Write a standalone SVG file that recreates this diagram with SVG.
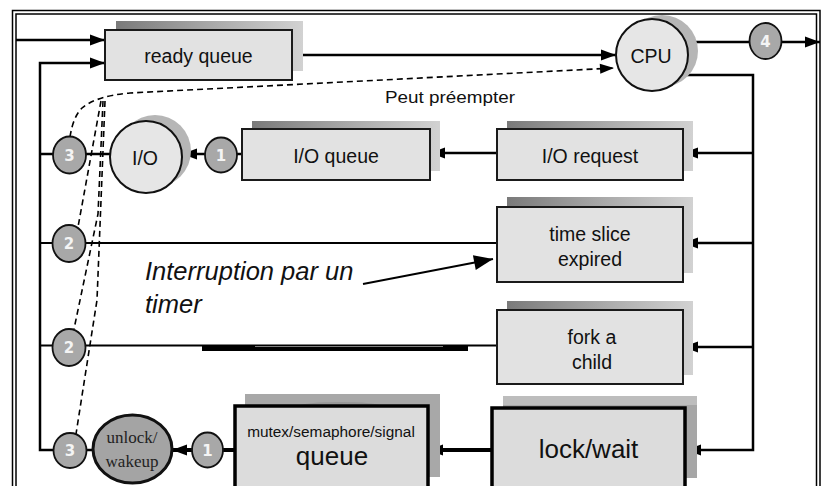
<svg xmlns="http://www.w3.org/2000/svg" width="827" height="486" viewBox="0 0 827 486">
  <defs>
    <linearGradient id="shade" x1="0" y1="0" x2="1" y2="0">
      <stop offset="0" stop-color="#7a7a7a"/>
      <stop offset="0.55" stop-color="#acacac"/>
      <stop offset="1" stop-color="#d2d2d2"/>
    </linearGradient>
    <marker id="arr" viewBox="0 0 15 11" refX="15" refY="5.5" markerWidth="15" markerHeight="11" markerUnits="userSpaceOnUse" orient="auto" overflow="visible">
      <path d="M0,0 L15,5.5 L0,11 z" fill="#000"/>
    </marker>
    <marker id="arrDash" viewBox="0 0 14 10" refX="14" refY="5" markerWidth="14" markerHeight="10" markerUnits="userSpaceOnUse" orient="auto" overflow="visible">
      <path d="M0,0 L14,5 L0,10 z" fill="#000"/>
    </marker>
    <marker id="arrBig" viewBox="0 0 19 15" refX="19" refY="7.5" markerWidth="19" markerHeight="15" markerUnits="userSpaceOnUse" orient="auto" overflow="visible">
      <path d="M0,0 L19,7.5 L0,15 z" fill="#000"/>
    </marker>
    <style>
      .box { fill: #e2e2e2; stroke: #1a1a1a; stroke-width: 2; }
      .boxHeavy { fill: #dcdcdc; stroke: #000; stroke-width: 3.5; }
      .shadow { fill: url(#shade); }
      .num { fill: #a8a8a8; stroke: #111; stroke-width: 1.8; }
      .numTxt { font-family: "DejaVu Sans", sans-serif; font-weight: bold; font-size: 15px; fill: #f4f4f4; text-anchor: middle; }
      .lbl { font-family: "Liberation Sans", Arial, sans-serif; font-size: 19.5px; fill: #111; text-anchor: middle; }
      .big { font-size: 26px; }
      .small { font-size: 15.4px; }
      .note { font-family: "Liberation Sans", Arial, sans-serif; font-style: italic; font-size: 25.5px; fill: #111; }
      .serif { font-family: "Liberation Serif", serif; font-size: 17px; fill: #222; text-anchor: middle; }
      .ln { fill: none; stroke: #000; stroke-width: 2.5; }
      .thin { fill: none; stroke: #000; stroke-width: 2; }
      .ptr { fill: none; stroke: #000; stroke-width: 1.8; }
      .heavy { fill: none; stroke: #000; stroke-width: 4; }
      .heavier { fill: none; stroke: #000; stroke-width: 5; }
      .dash { fill: none; stroke: #000; stroke-width: 1.6; stroke-dasharray: 6 4; }
      .frame { fill: none; stroke: #000; stroke-width: 1.5; }
    </style>
  </defs>

  <rect width="827" height="486" fill="#fff"/>

  <!-- double frame -->
  <rect class="frame" x="12.5" y="10.5" width="807.5" height="500"/>
  <rect class="frame" x="16" y="14" width="800.5" height="500"/>

  <!-- connectors -->
  <g id="connectors">
    <path class="ln" d="M16 40 H105" marker-end="url(#arr)"/>
    <path class="ln" d="M53 450 H40 V63 H105" marker-end="url(#arr)"/>
    <path class="ln" d="M292 55 H616" marker-end="url(#arr)"/>
    <path class="ln" d="M685 42 H749"/>
    <path class="ln" d="M782 42 H820" marker-end="url(#arr)"/>
    <path class="ln" d="M682 75 H753 V450 H686" marker-end="url(#arr)"/>
    <path class="ln" d="M753 153 H683" marker-end="url(#arr)"/>
    <path class="ln" d="M753 243 H683" marker-end="url(#arr)"/>
    <path class="ln" d="M753 347 H683" marker-end="url(#arr)"/>
    <path class="ln" d="M497 153 H430" marker-end="url(#arr)"/>
    <path class="ln" d="M242 154 H237"/>
    <path class="ln" d="M205 154 H182" marker-end="url(#arr)"/>
    <path class="ln" d="M110 154 H86 M53 154 H40"/>
    <path class="thin" d="M40 243 H53 M85 243 H497"/>
    <path class="thin" d="M40 345.5 H53 M85 345.5 H497"/>
    <path class="heavy" d="M202 349 H468"/>
    <path class="heavier" d="M202 348.5 H255 M443 348.5 H468"/>
    <path class="heavy" d="M492 450 H428" marker-end="url(#arr)"/>
    <path class="heavy" d="M235 450 H223"/>
    <path class="heavy" d="M192 450 H172" marker-end="url(#arr)"/>
    <path class="ln" d="M93 450 H86"/>
    <!-- pre-emption paths -->
    <path class="dash" d="M70 137 Q73 117 82 108 Q96 96 130 93 L614 68" marker-end="url(#arrDash)"/>
    <path class="dash" d="M101 101 L78 227"/>
    <path class="dash" d="M103 101 L98 214 L74 329"/>
    <path class="dash" d="M105 101 L97 300 L76 434"/>
    <!-- timer pointer -->
    <path class="ptr" d="M363 284 L493 259" marker-end="url(#arrBig)"/>
  </g>

  <!-- nodes -->
  <g id="ready-queue">
    <rect class="shadow" x="116" y="21" width="187" height="50"/>
    <rect class="box" x="105" y="30" width="187" height="50"/>
    <text class="lbl" x="198.5" y="63">ready queue</text>
  </g>

  <g id="cpu">
    <circle cx="662" cy="51" r="36" fill="#b6b6b6"/>
    <circle cx="652" cy="55" r="36" fill="#e6e6e6" stroke="#111" stroke-width="2"/>
    <text class="lbl" x="651" y="63">CPU</text>
  </g>

  <g id="exit-4">
    <ellipse class="num" cx="765.5" cy="41" rx="16" ry="18"/>
    <text class="numTxt" x="765.5" y="46.5">4</text>
  </g>

  <g id="io-request">
    <rect class="shadow" x="507" y="121" width="186" height="50"/>
    <rect class="box" x="497" y="129" width="186" height="51"/>
    <text class="lbl" x="590" y="163">I/O request</text>
  </g>

  <g id="io-queue">
    <rect class="shadow" x="252" y="121" width="188" height="50"/>
    <rect class="box" x="242" y="129" width="188" height="51"/>
    <text class="lbl" x="336" y="163">I/O queue</text>
  </g>

  <g id="io-step-1">
    <ellipse class="num" cx="221" cy="155" rx="16" ry="17.5"/>
    <text class="numTxt" x="221" y="160.5">1</text>
  </g>

  <g id="io">
    <circle cx="155" cy="151" r="36" fill="#b6b6b6"/>
    <circle cx="146" cy="157" r="36" fill="#e6e6e6" stroke="#111" stroke-width="2"/>
    <text class="lbl" x="145" y="165">I/O</text>
  </g>

  <g id="io-step-3">
    <ellipse class="num" cx="69.5" cy="155" rx="16.5" ry="18.5"/>
    <text class="numTxt" x="69.5" y="160.5">3</text>
  </g>

  <g id="time-slice">
    <rect class="shadow" x="507" y="197" width="186" height="76"/>
    <rect class="box" x="497" y="207" width="186" height="75"/>
    <text class="lbl" x="590" y="241">time slice</text>
    <text class="lbl" x="590" y="266">expired</text>
  </g>

  <g id="time-step-2">
    <ellipse class="num" cx="69" cy="243.5" rx="16.5" ry="18.5"/>
    <text class="numTxt" x="69" y="249">2</text>
  </g>

  <g id="timer-note">
    <text class="note" x="145" y="280">Interruption par un</text>
    <text class="note" x="145" y="313">timer</text>
  </g>

  <g id="fork">
    <rect class="shadow" x="507" y="301" width="186" height="74"/>
    <rect class="box" x="497" y="310" width="186" height="74"/>
    <text class="lbl" x="592" y="344">fork a</text>
    <text class="lbl" x="592" y="369">child</text>
  </g>

  <g id="fork-step-2">
    <ellipse class="num" cx="69" cy="347.5" rx="16.5" ry="18.5"/>
    <text class="numTxt" x="69" y="353">2</text>
  </g>

  <g id="lock-wait">
    <rect x="503" y="396" width="194" height="82" fill="#a6a6a6"/>
    <rect x="503" y="396" width="194" height="9" fill="#bdbdbd"/>
    <rect class="boxHeavy" x="492" y="408" width="193" height="95"/>
    <text class="lbl big" x="588.5" y="458">lock/wait</text>
  </g>

  <g id="sync-queue">
    <rect x="245" y="394" width="195" height="83" fill="#a8a8a8"/>
    <ellipse cx="340" cy="406" rx="40" ry="4" fill="#989898"/>
    <rect class="boxHeavy" x="235" y="406" width="193" height="95"/>
    <text class="lbl small" x="331" y="437">mutex/semaphore/signal</text>
    <text class="lbl big" x="332" y="465">queue</text>
  </g>

  <g id="sync-step-1">
    <ellipse class="num" cx="207.5" cy="450" rx="15.5" ry="17.5"/>
    <text class="numTxt" x="207.5" y="455.5">1</text>
  </g>

  <g id="unlock">
    <ellipse cx="132.5" cy="449" rx="39.5" ry="34" fill="#a4a4a4" stroke="#111" stroke-width="3"/>
    <text class="serif" x="132" y="443">unlock/</text>
    <text class="serif" x="132" y="467">wakeup</text>
  </g>

  <g id="sync-step-3">
    <ellipse class="num" cx="70" cy="450.5" rx="16.5" ry="17.5"/>
    <text class="numTxt" x="70" y="456">3</text>
  </g>

  <g id="preempt-label">
    <text x="385" y="103" font-family="Liberation Sans, Arial, sans-serif" font-size="17" fill="#111" textLength="130" lengthAdjust="spacingAndGlyphs">Peut préempter</text>
  </g>
</svg>
